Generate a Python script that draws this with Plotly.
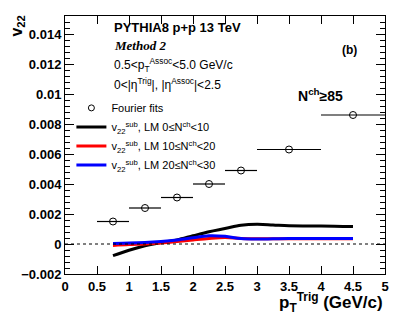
import plotly.graph_objects as go

# Fourier fit points
fit_pt = [0.75, 1.25, 1.75, 2.25, 2.75, 3.5, 4.5]
fit_halfwidth = [0.25, 0.25, 0.25, 0.25, 0.25, 0.5, 0.5]
fit_v22 = [0.0015, 0.0024, 0.0031, 0.0040, 0.0049, 0.0063, 0.0086]

# subtracted v22 curves, LM bins
lm_pt = [0.75, 1.0, 1.25, 1.5, 1.75, 2.0, 2.25, 2.5, 2.75, 3.0, 3.25, 3.5, 4.0, 4.5]
lm0_10 = [-0.00078, -0.00042, -0.00012, 0.0001, 0.00027, 0.00055, 0.00082, 0.00103, 0.00125, 0.00132, 0.00127, 0.00121, 0.0012, 0.00116]
lm10_20 = [-0.0001, -0.00004, 0.0, 0.00007, 0.00016, 0.00027, 0.00037, 0.00043, 0.00037, 0.00035, 0.00035, 0.00035, 0.00035, 0.00035]
lm20_30 = [0.00004, 0.00006, 0.0001, 0.00017, 0.00027, 0.00041, 0.00055, 0.00051, 0.00036, 0.00033, 0.00035, 0.00037, 0.00036, 0.00036]

FONT = 'Liberation Sans'

fig = go.Figure()

marker = dict(symbol='circle-open', size=7, color='black', line=dict(width=1))
fig.add_trace(go.Scatter(
    x=fit_pt, y=fit_v22, mode='markers', name='Fourier fits', showlegend=False,
    marker=marker,
    error_x=dict(type='data', array=fit_halfwidth, width=0, thickness=1.2, color='black'),
))
# legend entry without the error bar
fig.add_trace(go.Scatter(x=[None], y=[None], mode='markers', name='Fourier fits',
                         marker=dict(symbol='circle-open', size=6, color='black', line=dict(width=1))))

for vals, color, label in [
    (lm0_10, 'black', 'LM 0≤N<sup>ch</sup><10'),
    (lm10_20, 'red', 'LM 10≤N<sup>ch</sup><20'),
    (lm20_30, 'blue', 'LM 20≤N<sup>ch</sup><30'),
]:
    fig.add_trace(go.Scatter(
        x=lm_pt, y=vals, mode='lines', line=dict(color=color, width=3, shape='spline'),
        name='v<sub>22</sub><sup>sub</sup>, ' + label,
    ))

fig.add_hline(y=0, line=dict(color='black', width=1, dash='dot'))

axis_common = dict(
    showline=True, linecolor='black', linewidth=1, mirror='allticks',
    ticks='inside', tickcolor='black', showgrid=False, zeroline=False,
    tickfont=dict(family=FONT, size=13, color='black', weight='bold'),
)
fig.update_xaxes(range=[0, 5], tickvals=[0, 0.5, 1, 1.5, 2, 2.5, 3, 3.5, 4, 4.5, 5],
                 ticktext=['0', '0.5', '1', '1.5', '2', '2.5', '3', '3.5', '4', '4.5', '5'],
                 ticklen=8, **axis_common)
fig.update_yaxes(range=[-0.002, 0.0152], dtick=0.002, tickformat='~g', ticklen=9,
                 minor=dict(dtick=0.0004, ticklen=5, ticks='inside', tickcolor='black'),
                 **axis_common)

annotations = [
    dict(text='<b>PYTHIA8 p+p 13 TeV</b>', x=0.147, y=0.955, size=13, family=FONT),
    dict(text='<b><i>Method 2</i></b>', x=0.147, y=0.887, size=13, family='Liberation Serif'),
    dict(text='0.5<p<sub>T</sub><sup>Assoc</sup><5.0 GeV/c', x=0.147, y=0.812, size=12, family=FONT),
    dict(text='0<|η<sup>Trig</sup>|, |η<sup>Assoc</sup>|<2.5', x=0.147, y=0.738, size=12, family=FONT),
]
for a in annotations:
    fig.add_annotation(xref='paper', yref='paper', xanchor='left', yanchor='middle', showarrow=False,
                       text=a['text'], x=a['x'], y=a['y'],
                       font=dict(family=a['family'], size=a['size'], color='black'))

fig.add_annotation(xref='paper', yref='paper', x=0.92, y=0.905, text='<b>(b)</b>', showarrow=False,
                   font=dict(family=FONT, size=12, color='black'))
fig.add_annotation(xref='paper', yref='paper', x=0.875, y=0.735, text='<b>N<sup>ch</sup>≥85</b>', showarrow=False,
                   font=dict(family=FONT, size=14, color='black'))
fig.add_annotation(xref='paper', yref='paper', x=-0.148, y=1.01, yanchor='top', xanchor='center', textangle=-90,
                   text='<b>v<sub>22</sub></b>', showarrow=False,
                   font=dict(family=FONT, size=16, color='black'))
fig.add_annotation(xref='paper', yref='paper', x=1.0, y=-0.112, xanchor='right', yanchor='middle',
                   text='<b>p<sub>T</sub><sup>Trig</sup> (GeV/c)</b>', showarrow=False,
                   font=dict(family=FONT, size=17, color='black'))

# page body keeps an 8px margin, so the figure sits at (8, 8) and is 391x307
fig.update_layout(
    margin=dict(l=57, r=14, t=8, b=41),
    paper_bgcolor='white', plot_bgcolor='white',
    font=dict(family=FONT, color='black'),
    legend=dict(x=0.02, y=0.7, xanchor='left', yanchor='top', bgcolor='rgba(0,0,0,0)',
                font=dict(family=FONT, size=11, color='black'), itemwidth=30, tracegroupgap=0),
)

fig.write_html('out.html')
